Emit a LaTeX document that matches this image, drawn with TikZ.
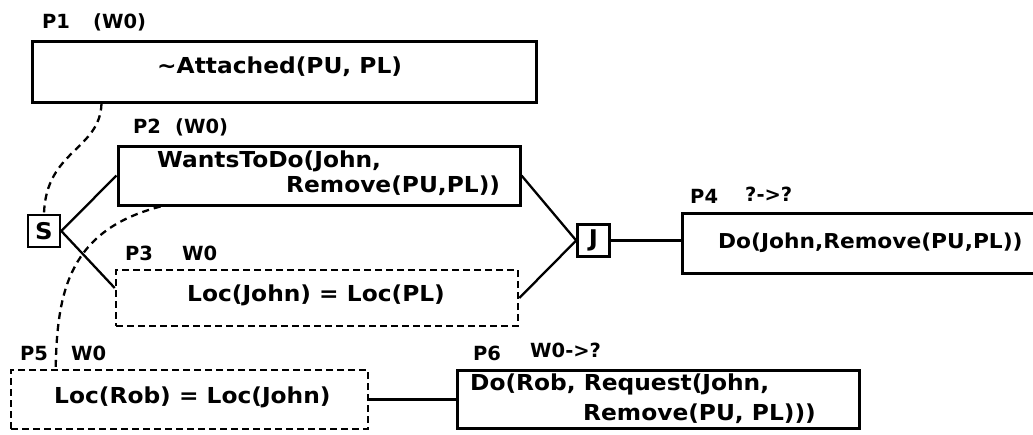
\documentclass[tikz,border=0pt]{standalone}
\usepackage{fontspec}
\setmainfont{DejaVu Sans}[FakeStretch=1.06, UprightFont=*-Bold]
\newfontfamily\tagfont{DejaVu Sans}[UprightFont=*-Bold]
\tikzset{
  prop/.style = {draw, line width=3pt, inner sep=0},
  hyp/.style = {draw, line width=2.6pt, dash pattern=on 7pt off 4pt, inner sep=0},
  gate/.style = {draw, line width=2.6pt, inner sep=0, minimum size=32, font=\fontsize{23}{26}\selectfont},
  txt/.style = {anchor=base west, inner sep=0, font=\fontsize{22}{26}\selectfont},
  tag/.style = {anchor=base west, inner sep=0, font=\tagfont\fontsize{19.5}{22}\selectfont},
  link/.style = {line width=2.3pt},
  dep/.style = {line width=2.3pt, dash pattern=on 7pt off 5pt}
}
\begin{document}
\begin{tikzpicture}[x=1pt, y=-1pt]
  \useasboundingbox (0,0) rectangle (1033,434);
  \clip (0,0) rectangle (1033,434);

  \node[prop, minimum width=504, minimum height=61] (p1) at (284,71.5) {};
  \node[prop, minimum width=402, minimum height=59] (p2) at (319,175.5) {};
  \node[hyp, minimum width=402, minimum height=56] (p3) at (317,298) {};
  \node[prop, minimum width=380, minimum height=60] (p4) at (872,243) {};
  \node[hyp, minimum width=357, minimum height=59] (p5) at (189.5,399.5) {};
  \node[prop, minimum width=402, minimum height=58] (p6) at (658,399) {};
  \node[gate] (s) at (44,231) {S};
  \node[gate] (j) at (593.5,240.5) {J};

  \node[tag] (p1name) at (42,28) {P1};
  \node[tag] (p1world) at (93,28) {(W0)};
  \node[tag] (p2name) at (133,133) {P2};
  \node[tag] (p2world) at (175,133) {(W0)};
  \node[tag] (p3name) at (125,260) {P3};
  \node[tag] (p3world) at (182,260) {W0};
  \node[tag] (p4name) at (690,203) {P4};
  \node[tag] (p4world) at (745,201) {?->?};
  \node[tag] (p5name) at (20,360) {P5};
  \node[tag] (p5world) at (71,360) {W0};
  \node[tag] (p6name) at (473,360) {P6};
  \node[tag] (p6world) at (530,357) {W0->?};

  \node[txt] (p1txt) at (157,73) {\textasciitilde Attached(PU, PL)};
  \node[txt] (p2txta) at (157,167) {WantsToDo(John,};
  \node[txt] (p2txtb) at (286,192) {Remove(PU,PL))};
  \node[txt] (p3txt) at (187,301) {Loc(John) = Loc(PL)};
  \node[txt, font=\fontsize{20.5}{26}\selectfont] (p4txt) at (718,248) {Do(John,Remove(PU,PL))};
  \node[txt] (p5txt) at (54,403) {Loc(Rob) = Loc(John)};
  \node[txt] (p6txta) at (470,390) {Do(Rob, Request(John,};
  \node[txt] (p6txtb) at (583,420) {Remove(PU, PL)))};

  \draw[link] (s.east) -- (p2.west);
  \draw[link] (s.east) -- ([yshift=10pt]p3.west);
  \draw[link] (p2.east) -- (j.west);
  \draw[link] (p3.east) -- (j.west);
  \draw[link] (j.east) -- (j.east -| p4.west);
  \draw[link] (p5.east) -- (p5.east -| p6.west);

  \draw[dep] ([xshift=71pt]p1.south west) .. controls (100,150) and (46,150) .. (s.north);
  \draw[dep] ([xshift=44pt]p2.south west) .. controls (70,230) and (57,290) .. ([xshift=46pt]p5.north west);
\end{tikzpicture}
\end{document}
